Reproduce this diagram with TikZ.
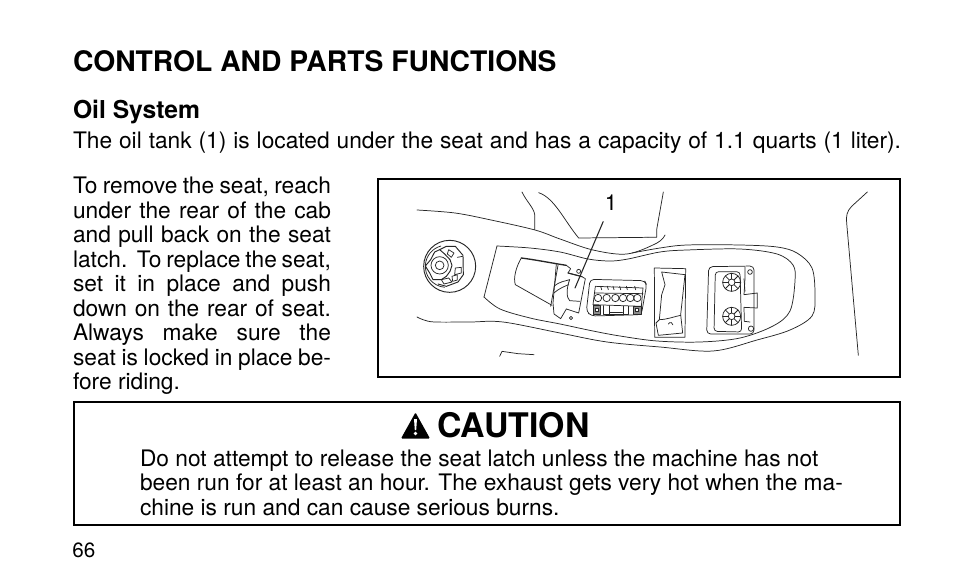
\documentclass[tikz,border=0pt]{standalone}
\usepackage{fontspec}
\setmainfont{TeX Gyre Heros}
\newcommand{\jl}[2]{\hbox to #1{#2}}
\begin{document}
\begin{tikzpicture}[x=0.75pt,y=-0.75pt,
  txt/.style={anchor=base west,inner sep=0pt,outer sep=0pt,font=\fontsize{17.05pt}{18pt}\selectfont},
  head/.style={anchor=base west,inner sep=0pt,outer sep=0pt,font=\fontsize{21.2pt}{24pt}\selectfont\bfseries},
  sub/.style={anchor=base west,inner sep=0pt,outer sep=0pt,font=\fontsize{18.5pt}{20pt}\selectfont\bfseries},
  frame/.style={draw=black,line width=1.35pt},
  art/.style={draw=black!85,line width=0.55pt,line join=round,line cap=round}]
\useasboundingbox (0,0) rectangle (954,588);
\fill[white] (0,0) rectangle (954,588);
\node[head] (title) at (73,72) {CONTROL AND PARTS FUNCTIONS};
\node[sub] (oil) at (73,119) {Oil System};
\node[txt] (intro) at (73,149) {\jl{621pt}{The oil tank (1) is located under the seat and has a capacity of 1.1 quarts (1 liter).}};
\node[txt] (l1) at (73,193.7) {\jl{193.5pt}{To remove the seat, reach}};
\node[txt] (l2) at (73,218.2) {\jl{193.5pt}{under the rear of the cab}};
\node[txt] (l3) at (73,242.7) {\jl{193.5pt}{and pull back on the seat}};
\node[txt] (l4) at (73,267.2) {\jl{193.5pt}{latch.\ \ To replace the seat,}};
\node[txt] (l5) at (73,291.7) {\jl{193.5pt}{set it in place and push}};
\node[txt] (l6) at (73,316.2) {\jl{193.5pt}{down on the rear of seat.}};
\node[txt] (l7) at (73,340.7) {\jl{193.5pt}{Always make sure the}};
\node[txt] (l8) at (73,365.2) {\jl{193.5pt}{seat is locked in place be-}};
\node[txt] (l9) at (73,389.5) {fore riding.};
% figure frame
\node[frame,minimum width=391.5pt,minimum height=148.5pt,inner sep=0pt,anchor=north west] (figbox) at (377,178) {};
% caution box
\node[frame,minimum width=619.5pt,minimum height=92.25pt,inner sep=0pt,anchor=north west] (cautionbox) at (73,401) {};
\fill[black,rounded corners=0.8pt] (415.5,412.5) -- (430,438.5) -- (401,438.5) -- cycle;
\fill[white] (414,419) -- (417,419) -- (416.2,430) -- (414.8,430) -- cycle;
\fill[white] (415.5,433.5) circle (1.9);
\node[anchor=base west,inner sep=0pt,font=\fontsize{25.4pt}{30pt}\selectfont\bfseries] (caution) at (437,437.5) {CAUTION};
\node[txt] (c1) at (140,466) {Do not attempt to release the seat latch unless the machine has not};
\node[txt] (c2) at (140,490.5) {been run for at least an hour. The exhaust gets very hot when the ma-};
\node[txt] (c3) at (140,515.7) {chine is run and can cause serious burns.};
\node[anchor=base west,inner sep=0pt,font=\fontsize{15.5pt}{16pt}\selectfont] (page) at (72,557.5) {66};
% label 1
\node[anchor=base,inner sep=0pt,font=\fontsize{16.5pt}{18pt}\selectfont] (one) at (611,211) {1};
\coordinate (tank) at (575,288);
\draw[art,line width=0.8pt,shorten <=15pt] (one.center) -- (tank);
% long body lines, page pixels
\begin{scope}[art]
\draw plot[smooth,tension=.55] coordinates {(417,210) (455,213) (491,220) (535,230) (560,239) (593,250) (627,254) (657,243) (665,235)};
\draw plot[smooth,tension=.55] coordinates {(484,297) (500,309) (530,318) (560,324) (593,331) (620,336) (657,341) (700,342) (740,338) (773,326) (790,311) (795,281) (793,265) (777,254) (740,249) (687,250) (660,252) (628,259) (610,261) (588,259) (560,252) (530,248) (497,246)};
\draw (497,246) -- (484,297);
\draw plot[smooth,tension=.55] coordinates {(632,253) (660,248) (687,245) (740,245) (777,247) (797,253) (812,268) (815,295) (812,316) (790,330) (757,340) (713,351) (660,347) (607,342) (560,333) (503,322) (470,322) (435,322) (424,320) (417,317)};
\end{scope}
% left part of art: coordinates = zoom pixels of crop (378,178)
\begin{scope}[shift={(378,178)},x=0.25pt,y=-0.25pt,art]
\draw (432,42) .. controls (445,70) and (468,90) .. (470,110) -- (470,155);
\draw (482,44) .. controls (530,60) and (560,130) .. (602,180) -- (810,178);
% small mark
\draw (365,535) -- (372,520) -- (420,527) -- (468,530);
% cap
\draw[line width=0.7pt] (215,265) circle (78);
\draw (205,265) ++(95:63) arc (95:255:63);
\draw[line width=0.7pt] (185,215) -- (205,205) -- (232,205) -- (255,232) -- (256,290) -- (240,312) -- (205,325) -- (180,318);
\draw[line width=0.7pt] (170,222) -- (185,215) -- (200,228) -- (216,245) -- (222,262) -- (216,280) -- (205,295) -- (190,305) -- (165,305) -- (155,285) -- (142,264) -- (158,245) -- cycle;
\draw (185,262) circle (26);
\draw (185,262) circle (13);
\draw (212,215) -- (228,225) -- (220,238) -- (208,228) -- cycle;
\draw (232,270) -- (250,268) -- (250,285) -- (230,290) -- cycle;
\draw (190,305) -- (212,300) -- (222,312) -- (198,318) -- cycle;
\draw (222,295) -- (238,290) -- (238,306) -- (224,310) -- cycle;
\draw (238,238) -- (254,235);
% tank lid
\draw[line width=1pt] (430,240) .. controls (470,245) and (520,255) .. (565,262);
\draw (430,240) .. controls (415,265) and (405,300) .. (412,320) -- (522,382);
\draw (540,262) -- (518,385);
\draw (565,262) -- (578,272) -- (570,285) -- (610,295) -- (622,302) -- (602,405) -- (565,393);
\draw (535,258) -- (525,375) -- (528,408) -- (548,422) -- (555,410) -- (565,393);
\draw[line width=0.8pt] (570,285) -- (612,296);
\draw (528,325) .. controls (545,310) and (560,310) .. (575,305);
\draw (528,345) .. controls (545,330) and (560,325) .. (572,320);
\draw (575,305) .. controls (565,330) and (565,360) .. (575,368) -- (605,370);
\draw (602,280) circle (6);
\draw (579,420) circle (5);
% battery
\draw[rounded corners=3pt] (636,304) -- (800,308) -- (806,320) -- (790,410) -- (640,414) -- (625,400) -- cycle;
\draw (652,325) -- (795,330) -- (790,385) -- (645,380) -- cycle;
\draw (652,345) -- (795,347);
\foreach \a in {660,686,712,735,757,778} \draw (\a,360) circle (11);
\foreach \a in {668,688,705,725,745,770} \draw (\a,325) -- (\a+3,335);
\filldraw[fill=black!45] (645,383) rectangle (668,408);
\filldraw[fill=black!45] (767,385) rectangle (790,408);
\draw[fill=white] (653,390) rectangle (661,400);
\draw[fill=white] (773,391) rectangle (781,401);
\draw (677,383) -- (677,408) -- (694,408) -- (694,383);
\draw (694,408) -- (735,408) -- (735,385);
\draw (735,408) -- (752,408) -- (752,385);
\draw[line width=0.9pt] (696,404) -- (733,404);
\end{scope}
% right part: crop (630,178)
\begin{scope}[shift={(630,178)},x=0.25pt,y=-0.25pt,art]
\draw (100,42) -- (80,155) -- (80,178) -- (54,178);
% strip
\draw (73,270) -- (167,272) -- (165,478) -- (74,478) -- cycle;
\draw (95,282) -- (165,290) -- (152,410) -- (158,465) -- (85,472) -- (78,435) -- (88,425) -- (95,350) -- (105,320) -- cycle;
\draw (88,425) .. controls (110,425) and (135,415) .. (152,412);
\draw (115,438) arc (200:360:7);
% cover
\draw[rounded corners=3pt] (236,266) -- (372,264) -- (372,468) -- (230,468) -- cycle;
\draw[rounded corners=2.5pt] (256,281) -- (330,281) -- (335,462) -- (252,460) -- cycle;
\draw (345,268) -- (345,302) -- (342,350) -- (382,345) -- (382,390) -- (342,388) -- (343,430) -- (360,432);
\draw (342,302) -- (345,340);
\draw (360,282) circle (7);
\draw (363,452) circle (8);
\foreach \c/\d in {305/313,305/415} {
  \draw (\c,\d) circle (27);
  \draw (\c,\d) circle (10);
  \foreach \t in {0,45,...,315} \draw (\c,\d) ++(\t:10) -- ++(\t:17);
}
% right edge
\draw (712,42) -- (665,85) .. controls (650,100) and (648,115) .. (650,135) -- (685,532);
\end{scope}
\end{tikzpicture}
\end{document}
